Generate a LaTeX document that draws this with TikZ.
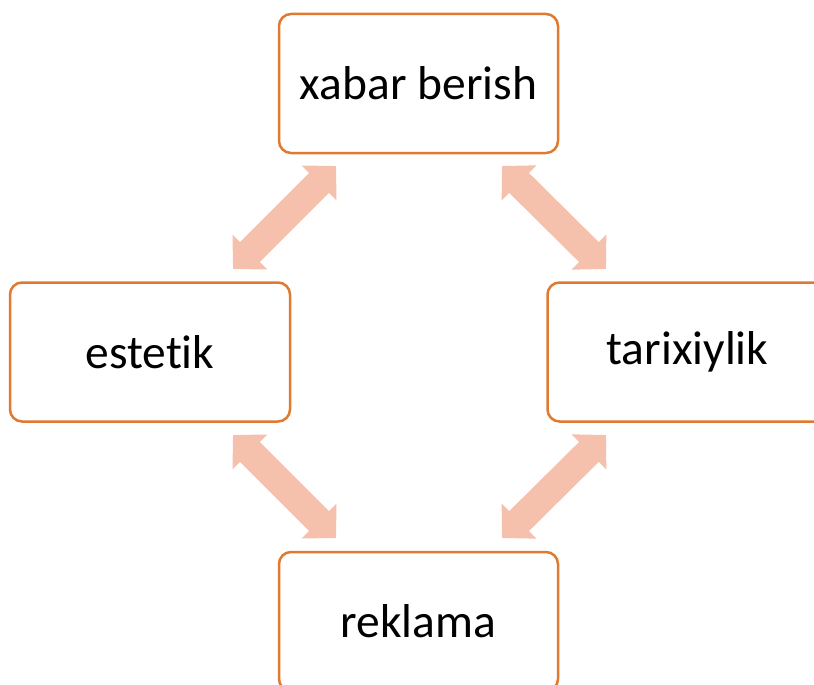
\documentclass[tikz,border=0pt]{standalone}
\usepackage{fontspec}
\setmainfont{Carlito}[Ligatures=NoCommon]
\usetikzlibrary{arrows.meta}
\definecolor{boxorange}{HTML}{E07A30}
\definecolor{linkpink}{HTML}{F5C0AC}
\begin{document}
\begin{tikzpicture}[x=1pt,y=-1pt,
  box/.style={draw=boxorange, line width=2.5pt, rounded corners=12pt, fill=white,
    minimum width=279pt, minimum height=139pt, inner sep=0pt,
    font=\fontsize{47.5}{56}\selectfont},
  link/.style={linkpink, line width=28pt,
    {Triangle[length=24pt,width=48pt]}-{Triangle[length=24pt,width=48pt]}}]
  \useasboundingbox (0,0) rectangle (814,685);
  \clip (0,0) rectangle (814,685);

  % the four boxes
  \node[box] (top)    at (418.5,83.5)  {xabar berish};
  \node[box, minimum width=280pt] (left)   at (150,352)   {estetik};
  \node[box, minimum width=280pt] (right)  at (687.5,352) {tarixiylik};
  \node[box] (bottom) at (418.5,621.5) {reklama};

  % end points of the double arrows between neighbouring boxes
  \coordinate (tl1) at (233,269);  \coordinate (tl2) at (336,166);
  \coordinate (tr1) at (502,166);  \coordinate (tr2) at (606,269);
  \coordinate (bl1) at (233,435);  \coordinate (bl2) at (336,538);
  \coordinate (br1) at (606,435);  \coordinate (br2) at (502,538);

  \draw[link] (tl1) -- (tl2);
  \draw[link] (tr1) -- (tr2);
  \draw[link] (bl1) -- (bl2);
  \draw[link] (br1) -- (br2);
\end{tikzpicture}
\end{document}
